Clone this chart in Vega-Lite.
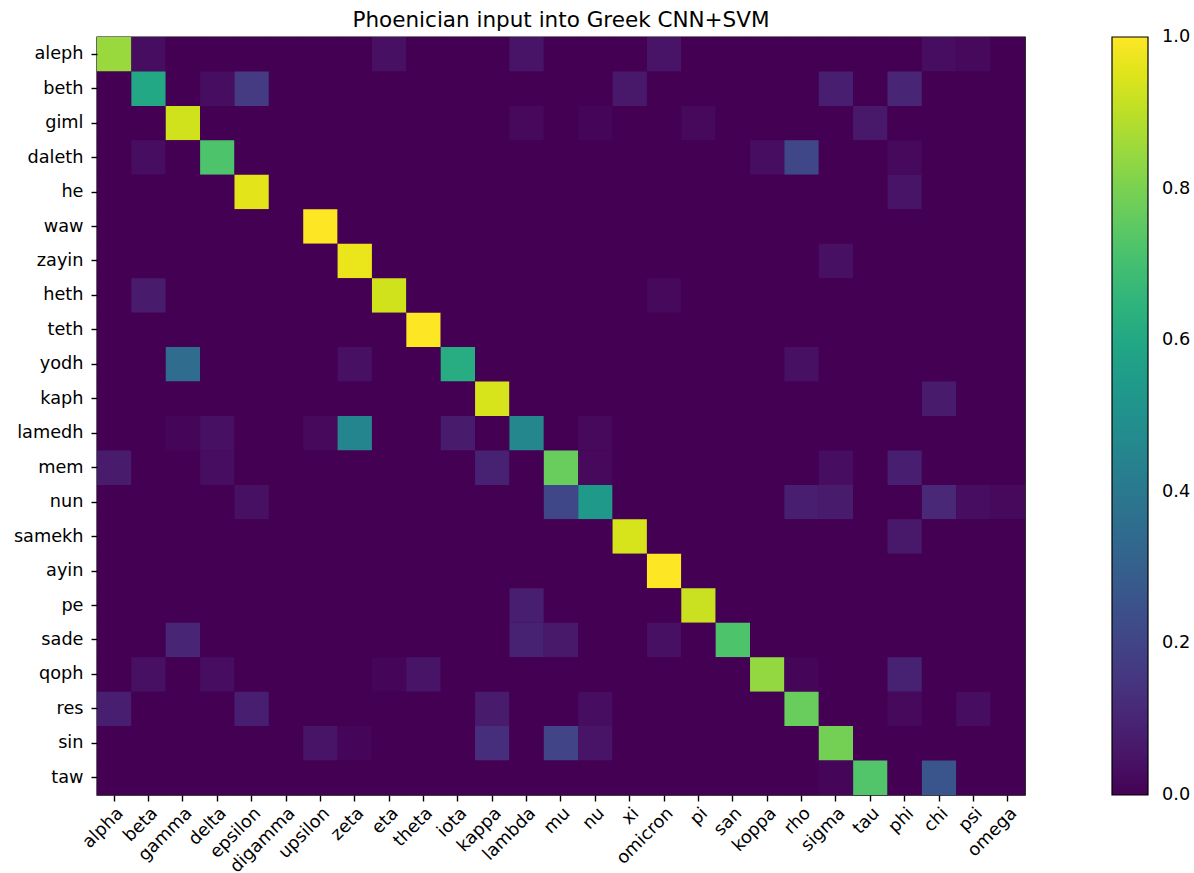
{
  "$schema": "https://vega.github.io/schema/vega-lite/v6.json",
  "autosize": "none",
  "padding": {"left": 97, "top": 37, "right": 169, "bottom": 78},
  "width": 928,
  "height": 758,
  "title": {"text": "Phoenician input into Greek CNN+SVM", "font": "DejaVu Sans", "fontSize": 21.5, "fontWeight": "normal", "color": "black", "offset": 6},
  "config": {
    "view": {"stroke": "black", "strokeWidth": 1.4, "fill": "#440154"},
    "axis": {"labelFont": "DejaVu Sans", "labelFontSize": 17.7, "labelColor": "black", "tickColor": "black", "tickSize": 6, "tickWidth": 1.4, "domain": false, "grid": false, "title": null},
    "legend": {"labelFont": "DejaVu Sans", "labelFontSize": 17.7, "labelColor": "black"}
  },
  "data": {"values": [
    {"p":"aleph","alpha":0.85,"beta":0.03,"gamma":0,"delta":0,"epsilon":0,"digamma":0,"upsilon":0,"zeta":0,"eta":0.04,"theta":0,"iota":0,"kappa":0,"lambda":0.05,"mu":0,"nu":0,"xi":0,"omicron":0.05,"pi":0,"san":0,"koppa":0,"rho":0,"sigma":0,"tau":0,"phi":0,"chi":0.03,"psi":0.02,"omega":0},
    {"p":"beth","alpha":0,"beta":0.6,"gamma":0,"delta":0.03,"epsilon":0.17,"digamma":0,"upsilon":0,"zeta":0,"eta":0,"theta":0,"iota":0,"kappa":0,"lambda":0,"mu":0,"nu":0,"xi":0.06,"omicron":0,"pi":0,"san":0,"koppa":0,"rho":0,"sigma":0.08,"tau":0,"phi":0.1,"chi":0,"psi":0,"omega":0},
    {"p":"giml","alpha":0,"beta":0,"gamma":0.93,"delta":0,"epsilon":0,"digamma":0,"upsilon":0,"zeta":0,"eta":0,"theta":0,"iota":0,"kappa":0,"lambda":0.02,"mu":0,"nu":0.01,"xi":0,"omicron":0,"pi":0.02,"san":0,"koppa":0,"rho":0,"sigma":0,"tau":0.06,"phi":0,"chi":0,"psi":0,"omega":0},
    {"p":"daleth","alpha":0,"beta":0.03,"gamma":0,"delta":0.72,"epsilon":0,"digamma":0,"upsilon":0,"zeta":0,"eta":0,"theta":0,"iota":0,"kappa":0,"lambda":0,"mu":0,"nu":0,"xi":0,"omicron":0,"pi":0,"san":0,"koppa":0.03,"rho":0.21,"sigma":0,"tau":0,"phi":0.02,"chi":0,"psi":0,"omega":0},
    {"p":"he","alpha":0,"beta":0,"gamma":0,"delta":0,"epsilon":0.96,"digamma":0,"upsilon":0,"zeta":0,"eta":0,"theta":0,"iota":0,"kappa":0,"lambda":0,"mu":0,"nu":0,"xi":0,"omicron":0,"pi":0,"san":0,"koppa":0,"rho":0,"sigma":0,"tau":0,"phi":0.05,"chi":0,"psi":0,"omega":0},
    {"p":"waw","alpha":0,"beta":0,"gamma":0,"delta":0,"epsilon":0,"digamma":0,"upsilon":1.0,"zeta":0,"eta":0,"theta":0,"iota":0,"kappa":0,"lambda":0,"mu":0,"nu":0,"xi":0,"omicron":0,"pi":0,"san":0,"koppa":0,"rho":0,"sigma":0,"tau":0,"phi":0,"chi":0,"psi":0,"omega":0},
    {"p":"zayin","alpha":0,"beta":0,"gamma":0,"delta":0,"epsilon":0,"digamma":0,"upsilon":0,"zeta":0.97,"eta":0,"theta":0,"iota":0,"kappa":0,"lambda":0,"mu":0,"nu":0,"xi":0,"omicron":0,"pi":0,"san":0,"koppa":0,"rho":0,"sigma":0.04,"tau":0,"phi":0,"chi":0,"psi":0,"omega":0},
    {"p":"heth","alpha":0,"beta":0.07,"gamma":0,"delta":0,"epsilon":0,"digamma":0,"upsilon":0,"zeta":0,"eta":0.93,"theta":0,"iota":0,"kappa":0,"lambda":0,"mu":0,"nu":0,"xi":0,"omicron":0.02,"pi":0,"san":0,"koppa":0,"rho":0,"sigma":0,"tau":0,"phi":0,"chi":0,"psi":0,"omega":0},
    {"p":"teth","alpha":0,"beta":0,"gamma":0,"delta":0,"epsilon":0,"digamma":0,"upsilon":0,"zeta":0,"eta":0,"theta":1.0,"iota":0,"kappa":0,"lambda":0,"mu":0,"nu":0,"xi":0,"omicron":0,"pi":0,"san":0,"koppa":0,"rho":0,"sigma":0,"tau":0,"phi":0,"chi":0,"psi":0,"omega":0},
    {"p":"yodh","alpha":0,"beta":0,"gamma":0.35,"delta":0,"epsilon":0,"digamma":0,"upsilon":0,"zeta":0.04,"eta":0,"theta":0,"iota":0.62,"kappa":0,"lambda":0,"mu":0,"nu":0,"xi":0,"omicron":0,"pi":0,"san":0,"koppa":0,"rho":0.04,"sigma":0,"tau":0,"phi":0,"chi":0,"psi":0,"omega":0},
    {"p":"kaph","alpha":0,"beta":0,"gamma":0,"delta":0,"epsilon":0,"digamma":0,"upsilon":0,"zeta":0,"eta":0,"theta":0,"iota":0,"kappa":0.94,"lambda":0,"mu":0,"nu":0,"xi":0,"omicron":0,"pi":0,"san":0,"koppa":0,"rho":0,"sigma":0,"tau":0,"phi":0,"chi":0.07,"psi":0,"omega":0},
    {"p":"lamedh","alpha":0,"beta":0,"gamma":0.01,"delta":0.04,"epsilon":0,"digamma":0,"upsilon":0.02,"zeta":0.45,"eta":0,"theta":0,"iota":0.07,"kappa":0,"lambda":0.46,"mu":0,"nu":0.02,"xi":0,"omicron":0,"pi":0,"san":0,"koppa":0,"rho":0,"sigma":0,"tau":0,"phi":0,"chi":0,"psi":0,"omega":0},
    {"p":"mem","alpha":0.07,"beta":0,"gamma":0,"delta":0.03,"epsilon":0,"digamma":0,"upsilon":0,"zeta":0,"eta":0,"theta":0,"iota":0,"kappa":0.09,"lambda":0,"mu":0.77,"nu":0.02,"xi":0,"omicron":0,"pi":0,"san":0,"koppa":0,"rho":0,"sigma":0.03,"tau":0,"phi":0.08,"chi":0,"psi":0,"omega":0},
    {"p":"nun","alpha":0,"beta":0,"gamma":0,"delta":0,"epsilon":0.04,"digamma":0,"upsilon":0,"zeta":0,"eta":0,"theta":0,"iota":0,"kappa":0,"lambda":0,"mu":0.21,"nu":0.54,"xi":0,"omicron":0,"pi":0,"san":0,"koppa":0,"rho":0.08,"sigma":0.07,"tau":0,"phi":0,"chi":0.11,"psi":0.03,"omega":0.02},
    {"p":"samekh","alpha":0,"beta":0,"gamma":0,"delta":0,"epsilon":0,"digamma":0,"upsilon":0,"zeta":0,"eta":0,"theta":0,"iota":0,"kappa":0,"lambda":0,"mu":0,"nu":0,"xi":0.94,"omicron":0,"pi":0,"san":0,"koppa":0,"rho":0,"sigma":0,"tau":0,"phi":0.06,"chi":0,"psi":0,"omega":0},
    {"p":"ayin","alpha":0,"beta":0,"gamma":0,"delta":0,"epsilon":0,"digamma":0,"upsilon":0,"zeta":0,"eta":0,"theta":0,"iota":0,"kappa":0,"lambda":0,"mu":0,"nu":0,"xi":0,"omicron":1.0,"pi":0,"san":0,"koppa":0,"rho":0,"sigma":0,"tau":0,"phi":0,"chi":0,"psi":0,"omega":0},
    {"p":"pe","alpha":0,"beta":0,"gamma":0,"delta":0,"epsilon":0,"digamma":0,"upsilon":0,"zeta":0,"eta":0,"theta":0,"iota":0,"kappa":0,"lambda":0.08,"mu":0,"nu":0,"xi":0,"omicron":0,"pi":0.92,"san":0,"koppa":0,"rho":0,"sigma":0,"tau":0,"phi":0,"chi":0,"psi":0,"omega":0},
    {"p":"sade","alpha":0,"beta":0,"gamma":0.1,"delta":0,"epsilon":0,"digamma":0,"upsilon":0,"zeta":0,"eta":0,"theta":0,"iota":0,"kappa":0,"lambda":0.09,"mu":0.06,"nu":0,"xi":0,"omicron":0.04,"pi":0,"san":0.72,"koppa":0,"rho":0,"sigma":0,"tau":0,"phi":0,"chi":0,"psi":0,"omega":0},
    {"p":"qoph","alpha":0,"beta":0.04,"gamma":0,"delta":0.03,"epsilon":0,"digamma":0,"upsilon":0,"zeta":0,"eta":0.01,"theta":0.05,"iota":0,"kappa":0,"lambda":0,"mu":0,"nu":0,"xi":0,"omicron":0,"pi":0,"san":0,"koppa":0.84,"rho":0.01,"sigma":0,"tau":0,"phi":0.09,"chi":0,"psi":0,"omega":0},
    {"p":"res","alpha":0.08,"beta":0,"gamma":0,"delta":0,"epsilon":0.08,"digamma":0,"upsilon":0,"zeta":0,"eta":0,"theta":0,"iota":0,"kappa":0.07,"lambda":0,"mu":0,"nu":0.03,"xi":0,"omicron":0,"pi":0,"san":0,"koppa":0,"rho":0.77,"sigma":0,"tau":0,"phi":0.02,"chi":0,"psi":0.03,"omega":0},
    {"p":"sin","alpha":0,"beta":0,"gamma":0,"delta":0,"epsilon":0,"digamma":0,"upsilon":0.05,"zeta":0.01,"eta":0,"theta":0,"iota":0,"kappa":0.13,"lambda":0,"mu":0.2,"nu":0.05,"xi":0,"omicron":0,"pi":0,"san":0,"koppa":0,"rho":0,"sigma":0.79,"tau":0,"phi":0,"chi":0,"psi":0,"omega":0},
    {"p":"taw","alpha":0,"beta":0,"gamma":0,"delta":0,"epsilon":0,"digamma":0,"upsilon":0,"zeta":0,"eta":0,"theta":0,"iota":0,"kappa":0,"lambda":0,"mu":0,"nu":0,"xi":0,"omicron":0,"pi":0,"san":0,"koppa":0,"rho":0,"sigma":0.01,"tau":0.73,"phi":0,"chi":0.26,"psi":0,"omega":0}
  ]},
  "transform": [
    {"fold": ["alpha", "beta", "gamma", "delta", "epsilon", "digamma", "upsilon", "zeta", "eta", "theta", "iota", "kappa", "lambda", "mu", "nu", "xi", "omicron", "pi", "san", "koppa", "rho", "sigma", "tau", "phi", "chi", "psi", "omega"], "as": ["g", "v"]}
  ],
  "mark": {"type": "rect", "strokeWidth": 0},
  "encoding": {
    "x": {"field": "g", "type": "nominal",
      "sort": ["alpha", "beta", "gamma", "delta", "epsilon", "digamma", "upsilon", "zeta", "eta", "theta", "iota", "kappa", "lambda", "mu", "nu", "xi", "omicron", "pi", "san", "koppa", "rho", "sigma", "tau", "phi", "chi", "psi", "omega"],
      "scale": {"paddingInner": 0, "paddingOuter": 0},
      "axis": {"labelAngle": -45, "labelAlign": "right", "labelBaseline": "top", "labelPadding": 3}},
    "y": {"field": "p", "type": "nominal",
      "sort": ["aleph", "beth", "giml", "daleth", "he", "waw", "zayin", "heth", "teth", "yodh", "kaph", "lamedh", "mem", "nun", "samekh", "ayin", "pe", "sade", "qoph", "res", "sin", "taw"],
      "scale": {"paddingInner": 0, "paddingOuter": 0},
      "axis": {"labelPadding": 8}},
    "color": {"field": "v", "type": "quantitative",
      "scale": {"scheme": "viridis", "domain": [0, 1]},
      "legend": {"title": null, "orient": "right", "offset": 87, "padding": 0, "gradientLength": 758, "gradientThickness": 36, "gradientStrokeColor": "black", "gradientStrokeWidth": 1.2, "values": [0, 0.2, 0.4, 0.6, 0.8, 1.0], "format": ".1f", "labelOffset": 14,
        "encode": {"labels": {"update": {"baseline": {"value": "middle"}}}}}}
  }
}
